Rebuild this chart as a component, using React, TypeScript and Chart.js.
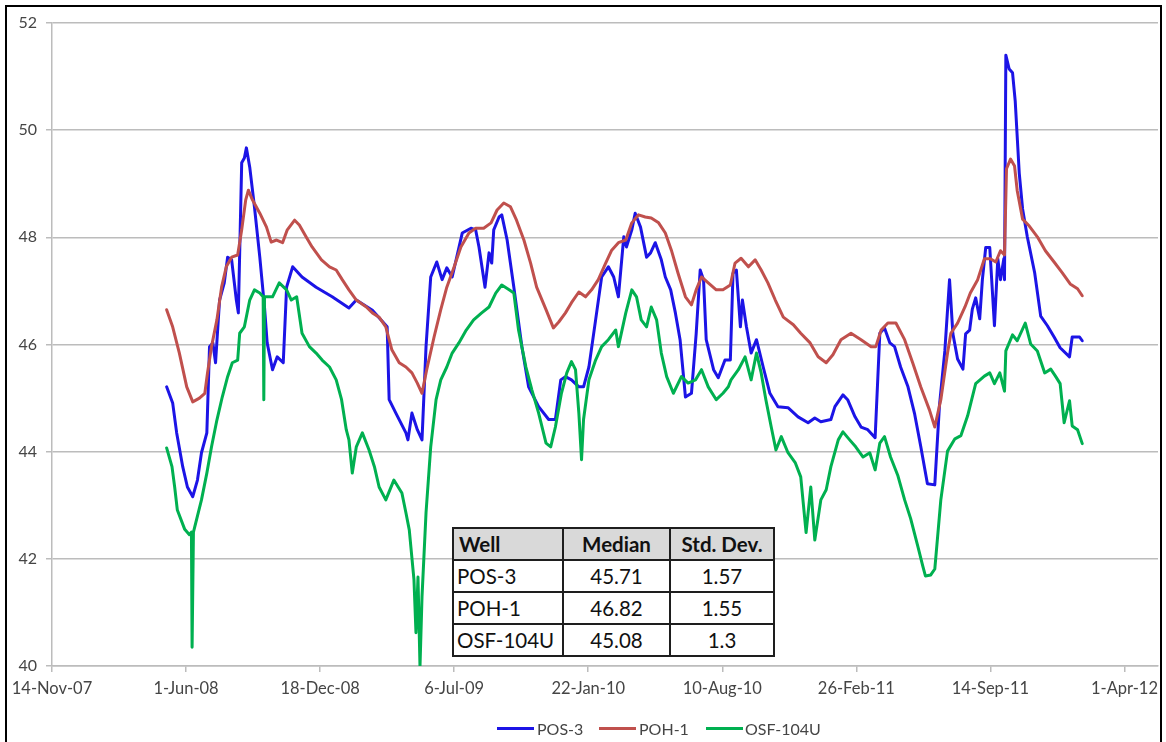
import React, { useEffect, useRef } from 'react';
import { Chart, registerables } from 'chart.js';

Chart.register(...registerables);

// x values are days counted from 14-Nov-07
const TICK_DAYS = [0, 200, 400, 600, 800, 1000, 1200, 1400, 1600];
const TICK_LABELS = ['14-Nov-07', '1-Jun-08', '18-Dec-08', '6-Jul-09', '22-Jan-10', '10-Aug-10', '26-Feb-11', '14-Sep-11', '1-Apr-12'];
const Y_MIN = 40;
const Y_MAX = 52;
const Y_STEP = 2;
const X_MAX_DAY = 1650;

const SERIES_NAMES = ['POS-3', 'POH-1', 'OSF-104U'];
const SERIES_COLORS = ['#1c14e6', '#c0504d', '#00b050'];

const POS3_DAYS = [171, 180, 186, 195, 202, 210, 217, 223, 231, 235, 240, 244, 250, 257, 262, 268, 275, 278, 283, 287, 290, 295, 302, 310, 317, 321, 329, 336, 345, 350, 359, 373, 394, 418, 443, 454, 478, 500, 503, 513, 528, 531, 537, 545, 552, 558, 565, 574, 582, 589, 597, 612, 625, 632, 637, 646, 652, 656, 659, 667, 671, 679, 689, 701, 711, 726, 741, 751, 759, 766, 775, 786, 793, 801, 811, 820, 830, 838, 845, 853, 857, 865, 870, 878, 887, 893, 900, 909, 915, 923, 930, 937, 945, 954, 961, 967, 972, 976, 987, 994, 1004, 1012, 1016, 1021, 1027, 1030, 1036, 1043, 1051, 1061, 1071, 1083, 1098, 1113, 1128, 1138, 1147, 1162, 1168, 1180, 1187, 1198, 1207, 1217, 1228, 1235, 1242, 1250, 1257, 1266, 1277, 1287, 1296, 1306, 1317, 1324, 1332, 1339, 1344, 1351, 1359, 1363, 1369, 1373, 1378, 1384, 1388, 1393, 1399, 1406, 1411, 1415, 1420, 1421, 1423, 1428, 1433, 1437, 1443, 1448, 1455, 1466, 1475, 1485, 1495, 1504, 1518, 1522, 1533, 1537];
const POS3_VALUES = [45.21, 44.91, 44.35, 43.72, 43.34, 43.16, 43.47, 43.98, 44.35, 45.96, 46.03, 45.66, 46.83, 47.15, 47.63, 47.58, 46.83, 46.59, 49.39, 49.48, 49.67, 49.31, 48.57, 47.63, 46.7, 46.03, 45.53, 45.77, 45.66, 47.07, 47.45, 47.26, 47.07, 46.89, 46.68, 46.83, 46.64, 46.33, 44.97, 44.72, 44.35, 44.22, 44.72, 44.41, 44.22, 45.96, 47.26, 47.54, 47.21, 47.43, 47.26, 48.08, 48.17, 48.14, 47.82, 47.07, 47.71, 47.52, 48.14, 48.38, 48.42, 47.95, 47.07, 45.96, 45.21, 44.84, 44.6, 44.6, 45.34, 45.4, 45.34, 45.21, 45.21, 45.58, 46.46, 47.26, 47.45, 47.26, 46.89, 48.01, 47.82, 48.14, 48.45, 48.19, 47.63, 47.71, 47.9, 47.58, 47.26, 47.02, 46.59, 46.09, 45.02, 45.09, 46.2, 47.39, 47.21, 46.09, 45.53, 45.38, 45.71, 45.71, 47.33, 47.39, 46.33, 46.83, 46.33, 45.84, 46.09, 45.58, 45.09, 44.84, 44.82, 44.65, 44.54, 44.63, 44.56, 44.6, 44.84, 45.06, 44.97, 44.65, 44.46, 44.41, 44.26, 46.21, 46.31, 46.03, 45.96, 45.58, 45.21, 44.7, 44.1, 43.4, 43.38, 44.87, 45.88, 47.21, 46.2, 45.73, 45.54, 46.2, 46.27, 46.66, 46.87, 46.48, 47.21, 47.81, 47.81, 46.35, 47.6, 47.21, 47.6, 47.21, 51.4, 51.14, 51.07, 50.54, 49.2, 48.53, 48.01, 47.34, 46.53, 46.35, 46.14, 45.94, 45.77, 46.14, 46.14, 46.07];

const POH1_DAYS = [171, 180, 190, 201, 210, 220, 228, 232, 238, 246, 253, 260, 268, 277, 283, 289, 293, 299, 310, 320, 327, 335, 344, 351, 362, 369, 379, 388, 402, 414, 424, 433, 443, 454, 469, 478, 488, 498, 507, 518, 528, 537, 545, 552, 559, 570, 580, 589, 600, 610, 622, 632, 644, 655, 664, 674, 684, 693, 704, 714, 723, 737, 748, 756, 766, 775, 786, 796, 805, 815, 826, 835, 845, 856, 865, 875, 885, 894, 905, 915, 924, 934, 945, 954, 961, 969, 979, 991, 1001, 1012, 1019, 1028, 1039, 1049, 1058, 1068, 1079, 1091, 1106, 1117, 1131, 1143, 1155, 1165, 1177, 1192, 1207, 1222, 1229, 1237, 1247, 1259, 1272, 1284, 1296, 1309, 1317, 1326, 1336, 1341, 1351, 1362, 1370, 1381, 1391, 1400, 1408, 1415, 1421, 1424, 1430, 1436, 1440, 1448, 1458, 1470, 1482, 1495, 1507, 1519, 1530, 1537];
const POH1_VALUES = [46.65, 46.33, 45.84, 45.21, 44.93, 45.0, 45.09, 45.47, 45.96, 46.46, 47.07, 47.45, 47.63, 47.67, 48.14, 48.7, 48.88, 48.7, 48.45, 48.19, 47.91, 47.95, 47.9, 48.14, 48.32, 48.23, 48.01, 47.82, 47.58, 47.45, 47.39, 47.21, 47.02, 46.83, 46.7, 46.59, 46.51, 46.33, 45.9, 45.66, 45.58, 45.47, 45.28, 45.09, 45.53, 46.14, 46.65, 47.07, 47.45, 47.82, 48.08, 48.17, 48.17, 48.27, 48.51, 48.64, 48.57, 48.32, 47.95, 47.52, 47.07, 46.65, 46.31, 46.42, 46.59, 46.78, 46.98, 46.89, 47.02, 47.21, 47.52, 47.76, 47.9, 47.95, 48.27, 48.42, 48.38, 48.36, 48.27, 48.08, 47.76, 47.33, 46.89, 46.74, 47.02, 47.26, 47.15, 47.02, 47.02, 47.11, 47.52, 47.61, 47.45, 47.58, 47.39, 47.15, 46.83, 46.51, 46.37, 46.21, 46.03, 45.77, 45.66, 45.81, 46.09, 46.21, 46.09, 45.96, 45.96, 46.27, 46.4, 46.4, 46.09, 45.66, 45.21, 44.78, 44.46, 44.97, 45.84, 46.21, 46.4, 46.7, 46.96, 47.21, 47.6, 47.6, 47.54, 47.75, 47.67, 49.28, 49.46, 49.33, 48.87, 48.34, 48.21, 48.01, 47.75, 47.54, 47.34, 47.13, 47.04, 46.91];

const OSF104U_DAYS = [171, 179, 183, 187, 198, 205, 208, 209, 211, 223, 231, 238, 246, 254, 262, 269, 277, 280, 287, 295, 302, 310, 315, 316, 317, 321, 329, 339, 350, 357, 365, 373, 384, 394, 403, 414, 424, 432, 439, 443, 448, 454, 463, 473, 481, 488, 498, 510, 522, 528, 533, 540, 543, 546, 549, 552, 558, 565, 573, 580, 589, 597, 607, 618, 629, 641, 652, 662, 671, 682, 689, 696, 707, 716, 726, 737, 744, 751, 760, 768, 775, 781, 786, 790, 793, 801, 811, 820, 830, 841, 845, 856, 865, 872, 879, 887, 894, 902, 909, 917, 927, 939, 949, 960, 969, 979, 991, 1001, 1009, 1013, 1024, 1034, 1043, 1051, 1058, 1065, 1073, 1080, 1088, 1098, 1109, 1117, 1125, 1132, 1138, 1147, 1155, 1162, 1173, 1180, 1190, 1199, 1210, 1220, 1228, 1235, 1242, 1251, 1262, 1272, 1281, 1292, 1299, 1303, 1311, 1317, 1326, 1336, 1347, 1356, 1366, 1378, 1391, 1399, 1406, 1414, 1421, 1423, 1433, 1440, 1452, 1460, 1470, 1481, 1490, 1497, 1504, 1510, 1518, 1522, 1530, 1537];
const OSF104U_VALUES = [44.07, 43.72, 43.34, 42.91, 42.55, 42.45, 42.5, 40.35, 42.5, 43.1, 43.6, 44.09, 44.59, 45.02, 45.4, 45.66, 45.71, 46.21, 46.33, 46.83, 47.02, 46.96, 46.89, 44.97, 46.89, 46.89, 46.89, 47.15, 47.02, 46.83, 46.89, 46.21, 45.96, 45.84, 45.71, 45.58, 45.34, 44.97, 44.41, 44.22, 43.6, 44.09, 44.35, 44.03, 43.72, 43.34, 43.1, 43.47, 43.23, 42.86, 42.54, 41.61, 40.62, 41.66, 39.99, 41.29, 42.86, 44.09, 44.97, 45.34, 45.58, 45.84, 46.03, 46.27, 46.46, 46.59, 46.7, 46.96, 47.11, 47.02, 46.96, 46.27, 45.58, 45.15, 44.72, 44.16, 44.09, 44.46, 45.09, 45.47, 45.68, 45.53, 44.72, 43.85, 44.6, 45.34, 45.71, 45.96, 46.09, 46.27, 45.96, 46.59, 47.02, 46.89, 46.46, 46.33, 46.7, 46.46, 45.84, 45.4, 45.09, 45.4, 45.28, 45.34, 45.53, 45.21, 44.97, 45.09, 45.21, 45.34, 45.53, 45.77, 45.34, 45.84, 45.47, 44.97, 44.46, 44.03, 44.28, 43.98, 43.79, 43.53, 42.49, 43.34, 42.35, 43.1, 43.29, 43.72, 44.22, 44.37, 44.22, 44.09, 43.9, 43.98, 43.66, 44.16, 44.28, 43.9, 43.55, 43.1, 42.75, 42.22, 41.87, 41.68, 41.7, 41.81, 43.1, 44.01, 44.24, 44.3, 44.67, 45.27, 45.41, 45.47, 45.27, 45.47, 45.13, 45.88, 46.18, 46.07, 46.4, 46.01, 45.88, 45.47, 45.54, 45.41, 45.27, 44.54, 44.95, 44.48, 44.41, 44.15];

const TABLE_HEADERS = ['Well', 'Median', 'Std. Dev.'];
const TABLE_WELLS = ['POS-3', 'POH-1', 'OSF-104U'];
const TABLE_MEDIANS = ['45.71', '46.82', '45.08'];
const TABLE_STDDEVS = ['1.57', '1.55', '1.3'];

const FONT = 'Lato, "Open Sans", sans-serif';
const TEXT_COLOR = '#454545';
const GRID_COLOR = '#bcbcbc';

const toPoints = (days: number[], values: number[]) => days.map((d, i) => ({ x: d, y: values[i] }));

export default function App() {
  const canvasRef = useRef<HTMLCanvasElement | null>(null);

  useEffect(() => {
    let chart: Chart | null = null;
    let cancelled = false;
    const build = () => {
      if (cancelled || !canvasRef.current) return;
      const seriesDays = [POS3_DAYS, POH1_DAYS, OSF104U_DAYS];
      const seriesValues = [POS3_VALUES, POH1_VALUES, OSF104U_VALUES];
      chart = new Chart(canvasRef.current, {
        type: 'line',
        data: {
          datasets: SERIES_NAMES.map((name, i) => ({
            label: name,
            data: toPoints(seriesDays[i], seriesValues[i]),
            borderColor: SERIES_COLORS[i],
            backgroundColor: SERIES_COLORS[i],
            borderWidth: 3,
            pointRadius: 0,
            tension: 0,
            fill: false,
            borderJoinStyle: 'round',
            borderCapStyle: 'round',
            order: SERIES_NAMES.length - i,
          })),
        },
        options: {
          responsive: false,
          animation: false,
          layout: { padding: { left: 0, right: 8, top: 23, bottom: 0 } },
          plugins: { legend: { display: false }, tooltip: { enabled: false } },
          scales: {
            x: {
              type: 'linear',
              min: 0,
              max: X_MAX_DAY,
              afterBuildTicks: (s: any) => {
                s.ticks = TICK_DAYS.map((v) => ({ value: v }));
              },
              afterFit: (s: any) => {
                s.height = 76;
              },
              grid: { drawOnChartArea: false, drawTicks: true, tickLength: 6, color: GRID_COLOR, lineWidth: 1.5 },
              border: { color: GRID_COLOR, width: 1.5 },
              ticks: {
                autoSkip: false,
                maxRotation: 0,
                minRotation: 0,
                padding: 7,
                color: TEXT_COLOR,
                font: { family: FONT, size: 16.5 },
                callback: (v: any) => {
                  const idx = TICK_DAYS.indexOf(Number(v));
                  return idx >= 0 ? TICK_LABELS[idx] : '';
                },
              },
            },
            y: {
              min: Y_MIN,
              max: Y_MAX,
              afterFit: (s: any) => {
                s.width = 52;
              },
              grid: { color: GRID_COLOR, lineWidth: 1.5, tickLength: 6 },
              border: { color: GRID_COLOR, width: 1.5 },
              ticks: {
                stepSize: Y_STEP,
                padding: 9,
                color: TEXT_COLOR,
                font: { family: FONT, size: 16 },
              },
            },
          },
        },
      } as any);
    };
    const fontsReady = (document as any).fonts && (document as any).fonts.load
      ? Promise.all([
          (document as any).fonts.load('16px Lato'),
          (document as any).fonts.load('bold 20px Lato'),
        ]).catch(() => null)
      : Promise.resolve(null);
    fontsReady.then(build);
    return () => {
      cancelled = true;
      if (chart) chart.destroy();
    };
  }, []);

  const cell: React.CSSProperties = {
    border: '2px solid #1e1e1e',
    padding: '0 5px',
    height: 30,
    lineHeight: '30px',
    whiteSpace: 'nowrap',
    overflow: 'hidden',
  };

  const legendItems = [
    { line: 497, text: 537 },
    { line: 599, text: 639 },
    { line: 706, text: 745 },
  ];

  return (
    <div style={{ position: 'absolute', left: 0, top: 0, width: 1166, height: 742, overflow: 'hidden', background: '#fff' }}>
      <canvas ref={canvasRef} width={1166} height={742} style={{ position: 'absolute', left: 0, top: 0, width: 1166, height: 742 }} />
      <table
        style={{
          position: 'absolute',
          left: 452,
          top: 527,
          borderCollapse: 'collapse',
          tableLayout: 'fixed',
          width: 321,
          fontFamily: FONT,
          fontSize: 20.5,
          color: '#111',
          background: '#fff',
        }}
      >
        <colgroup>
          <col style={{ width: 110 }} />
          <col style={{ width: 107 }} />
          <col style={{ width: 104 }} />
        </colgroup>
        <thead>
          <tr style={{ background: '#d9d9d9' }}>
            {TABLE_HEADERS.map((h, i) => (
              <th key={h} style={{ ...cell, fontWeight: 700, textAlign: i === 0 ? 'left' : 'center' }}>{h}</th>
            ))}
          </tr>
        </thead>
        <tbody>
          {TABLE_WELLS.map((w, r) => (
            <tr key={w}>
              <td style={{ ...cell, textAlign: 'left', padding: '0 3px' }}>{w}</td>
              <td style={{ ...cell, textAlign: 'center' }}>{TABLE_MEDIANS[r]}</td>
              <td style={{ ...cell, textAlign: 'center' }}>{TABLE_STDDEVS[r]}</td>
            </tr>
          ))}
        </tbody>
      </table>
      {SERIES_NAMES.map((name, i) => (
        <React.Fragment key={name}>
          <div style={{ position: 'absolute', left: legendItems[i].line, top: 727, width: 37, height: 3, background: SERIES_COLORS[i] }} />
          <div style={{ position: 'absolute', left: legendItems[i].text, top: 719, fontFamily: FONT, fontSize: 16, lineHeight: '20px', color: TEXT_COLOR, whiteSpace: 'nowrap' }}>{name}</div>
        </React.Fragment>
      ))}
      <div style={{ position: 'absolute', left: 5, top: 5, width: 1157, height: 780, border: '2px solid #000', boxSizing: 'border-box', pointerEvents: 'none' }} />
    </div>
  );
}
